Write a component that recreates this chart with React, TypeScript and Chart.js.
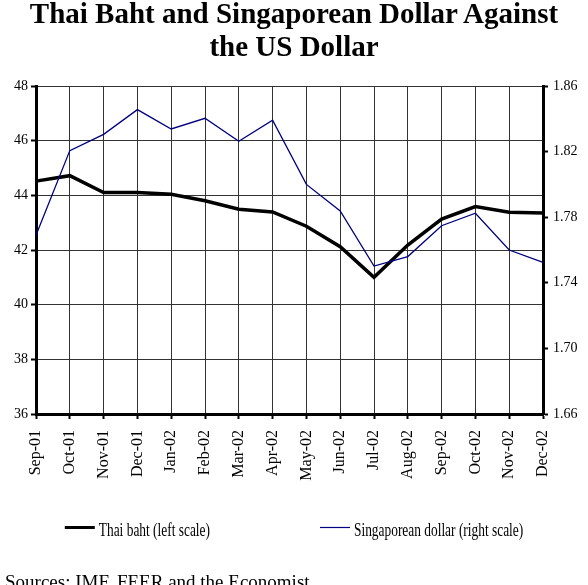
import React, { useEffect, useRef } from 'react';
import { Chart, registerables } from 'chart.js';

Chart.register(...registerables);

const months = ['Sep-01', 'Oct-01', 'Nov-01', 'Dec-01', 'Jan-02', 'Feb-02', 'Mar-02', 'Apr-02', 'May-02', 'Jun-02', 'Jul-02', 'Aug-02', 'Sep-02', 'Oct-02', 'Nov-02', 'Dec-02'];
const thaiBaht = [44.52, 44.72, 44.1, 44.1, 44.04, 43.8, 43.49, 43.39, 42.87, 42.12, 41.0, 42.18, 43.13, 43.59, 43.38, 43.35];
const singaporeDollar = [1.769, 1.8206, 1.8305, 1.8456, 1.8338, 1.8403, 1.8263, 1.8391, 1.8, 1.7838, 1.7502, 1.756, 1.7748, 1.7824, 1.76, 1.7525];
const leftTicks = [36, 38, 40, 42, 44, 46, 48];
const rightTicks = [1.66, 1.7, 1.74, 1.78, 1.82, 1.86];

const SERIF = '"Liberation Serif", "Times New Roman", serif';

const legendPlugin = {
  id: 'customLegend',
  afterDraw(chart: any) {
    const ctx = chart.ctx as CanvasRenderingContext2D;
    ctx.save();
    ctx.font = `19px ${SERIF}`;
    const sx = 0.705;
    const items = chart.data.datasets.map((ds: any) => ({ label: ds.label, color: ds.borderColor, lw: ds.legendLineWidth }));
    const lineLen = 30, gapText = 4, gapItems = 110;
    const widths = items.map((it: any) => lineLen + gapText + ctx.measureText(it.label).width * sx);
    const total = widths.reduce((a: number, b: number) => a + b, 0) + gapItems * (items.length - 1);
    let x = (chart.width - total) / 2;
    const yLine = 527.5, yText = 536;
    items.forEach((it: any, i: number) => {
      ctx.beginPath();
      ctx.strokeStyle = it.color;
      ctx.lineWidth = it.lw;
      ctx.moveTo(x, yLine);
      ctx.lineTo(x + lineLen, yLine);
      ctx.stroke();
      ctx.save();
      ctx.translate(x + lineLen + gapText, yText);
      ctx.scale(sx, 1);
      ctx.fillStyle = '#000';
      ctx.textBaseline = 'alphabetic';
      ctx.textAlign = 'left';
      ctx.fillText(it.label, 0, 0);
      ctx.restore();
      x += widths[i] + gapItems;
    });
    ctx.restore();
  },
};

export default function App() {
  const ref = useRef<HTMLCanvasElement>(null);
  useEffect(() => {
    const chart = new Chart(ref.current as HTMLCanvasElement, {
      type: 'line',
      data: {
        labels: months,
        datasets: [
          {
            label: 'Thai baht (left scale)',
            data: thaiBaht,
            yAxisID: 'y',
            borderColor: '#000000',
            borderWidth: 3.5,
            pointRadius: 0,
            tension: 0,
            fill: false,
            order: 1,
            legendLineWidth: 3,
          } as any,
          {
            label: 'Singaporean dollar (right scale)',
            data: singaporeDollar,
            yAxisID: 'y1',
            borderColor: '#000080',
            borderWidth: 1.3,
            pointRadius: 0,
            tension: 0,
            fill: false,
            order: 0,
            legendLineWidth: 1.2,
          } as any,
        ],
      },
      options: {
        responsive: false,
        maintainAspectRatio: false,
        animation: false,
        devicePixelRatio: 1,
        events: [],
        layout: { padding: { top: 86, left: 0, right: 0, bottom: 0 } },
        plugins: {
          legend: { display: false },
          title: { display: false },
          tooltip: { enabled: false },
        },
        scales: {
          x: {
            type: 'category',
            offset: false,
            grid: { color: '#333', lineWidth: 1, drawTicks: true, tickLength: 5, tickColor: '#000', tickWidth: 2 },
            border: { display: true, color: '#000', width: 3 },
            ticks: {
              autoSkip: false,
              maxRotation: 90,
              minRotation: 90,
              padding: 11,
              color: '#000',
              font: { family: SERIF, size: 16 },
            },
            afterFit: (s: any) => { s.height = 171; },
          },
          y: {
            type: 'linear',
            position: 'left',
            min: 36,
            max: 48,
            grid: { color: '#333', lineWidth: 1, drawTicks: true, tickLength: 5, tickColor: '#000', tickWidth: 2 },
            border: { display: true, color: '#000', width: 3 },
            ticks: { color: '#000', padding: 3, font: { family: SERIF, size: 14 } },
            afterBuildTicks: (s: any) => { s.ticks = leftTicks.map((v) => ({ value: v })); },
            afterFit: (s: any) => { s.width = 36; },
          },
          y1: {
            type: 'linear',
            position: 'right',
            min: 1.66,
            max: 1.86,
            grid: { drawOnChartArea: false, drawTicks: true, tickLength: 5, tickColor: '#000', tickWidth: 2 },
            border: { display: true, color: '#000', width: 3 },
            ticks: {
              color: '#000',
              padding: 5,
              font: { family: SERIF, size: 14 },
              callback: (v: any) => Number(v).toFixed(2),
            },
            afterBuildTicks: (s: any) => { s.ticks = rightTicks.map((v) => ({ value: v })); },
            afterFit: (s: any) => { s.width = 45; },
          },
        },
      },
      plugins: [legendPlugin],
    });
    return () => chart.destroy();
  }, []);

  return (
    <div style={{ position: 'absolute', left: 0, top: 0, width: 588, height: 585, overflow: 'hidden', background: '#fff' }}>
      <canvas ref={ref} width={588} height={585} style={{ position: 'absolute', left: 0, top: 0, width: 588, height: 585, display: 'block' }} />
      <div style={{ position: 'absolute', left: 0, top: -3, width: 588, textAlign: 'center', whiteSpace: 'nowrap', font: `bold 29px/33px ${SERIF}`, color: '#000' }}>
        Thai Baht and Singaporean Dollar Against<br />the US Dollar
      </div>
      <div style={{ position: 'absolute', left: 5, top: 571, whiteSpace: 'nowrap', font: `19px/22px ${SERIF}`, color: '#000' }}>
        Sources: IMF, FEER and the Economist
      </div>
    </div>
  );
}
